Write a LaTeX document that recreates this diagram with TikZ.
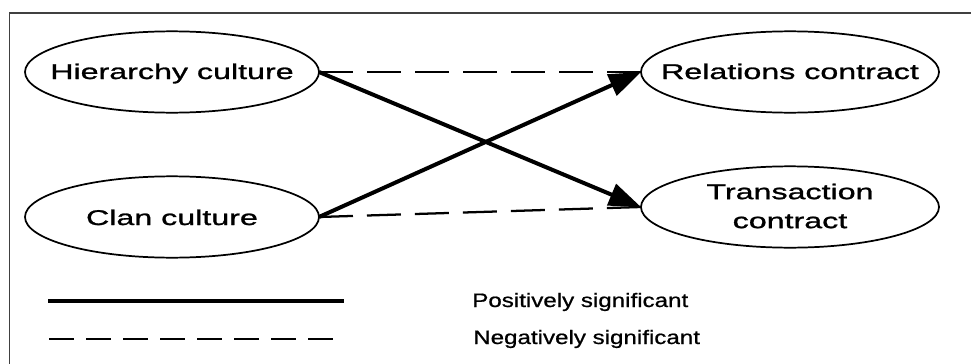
\documentclass[tikz,border=0pt]{standalone}
\usepackage{fontspec}
\setmainfont{Liberation Sans}
\newfontfamily\elfont[FakeStretch=1.51,FakeBold=1.2]{Liberation Sans}
\newfontfamily\legfont[FakeStretch=1.24,FakeBold=0.8]{Liberation Sans}
\usetikzlibrary{arrows.meta,shapes.geometric,calc}
\begin{document}
\begin{tikzpicture}[x=0.75pt,y=-0.75pt,
  oval/.style={draw, ellipse, line width=1.3pt, inner sep=0pt, outer sep=0pt, minimum height=61pt},
  ovaltext/.style={inner sep=0pt, font=\elfont\fontsize{16pt}{21.75pt}\selectfont, align=center},
  legtext/.style={inner sep=0pt, anchor=base west, font=\legfont\fontsize{14.6pt}{17pt}\selectfont},
  posline/.style={line width=3pt},
  negline/.style={line width=1.7pt, dash pattern=on 25.5pt off 10.5pt},
  posarrow/.style={posline, -{Triangle[length=24pt,width=17pt]}},
  frameline/.style={draw=black!75, line width=1.2pt}
]
\useasboundingbox[fill=white] (0,0) rectangle (971,364);
\draw[frameline] (9.5,364) -- (9.5,13) -- (971,13);

% ellipses
\node[oval, minimum width=220.5pt] (hier)  at (172,72)  {};
\node[oval, minimum width=220.5pt] (clan)  at (172,217) {};
\node[oval, minimum width=223.5pt] (rel)   at (790,72)  {};
\node[oval, minimum width=223.5pt] (trans) at (790,207) {};

% texts
\node[ovaltext, anchor=base] (hierT)  at ($(hier.center)+(0,7)$)  {Hierarchy culture};
\node[ovaltext, anchor=base] (clanT)  at ($(clan.center)+(0,8)$)  {Clan culture};
\node[ovaltext, anchor=base] (relT)   at ($(rel.center)+(0,7)$)   {Relations contract};
\node[ovaltext] (transT) at ($(trans.center)+(0,-1)$) {Transaction\\contract};

% connectors
\draw[negline] (hier.east) -- (rel.west);
\draw[negline] (clan.east) -- (trans.west);
\draw[posarrow] (hier.east) -- (trans.west);
\draw[posarrow] (clan.east) -- (rel.west);

% legend
\coordinate (p1) at (48,301);
\coordinate (p2) at (344,301);
\coordinate (n1) at (49,338.5);
\coordinate (n2) at (333,338.5);
\draw[posline] (p1) -- (p2);
\draw[line width=1.5pt, dash pattern=on 18.75pt off 9pt] (n1) -- (n2);
\node[legtext] (posT) at (472,307) {Positively significant};
\node[legtext] (negT) at (473,344) {Negatively significant};
\end{tikzpicture}
\end{document}
